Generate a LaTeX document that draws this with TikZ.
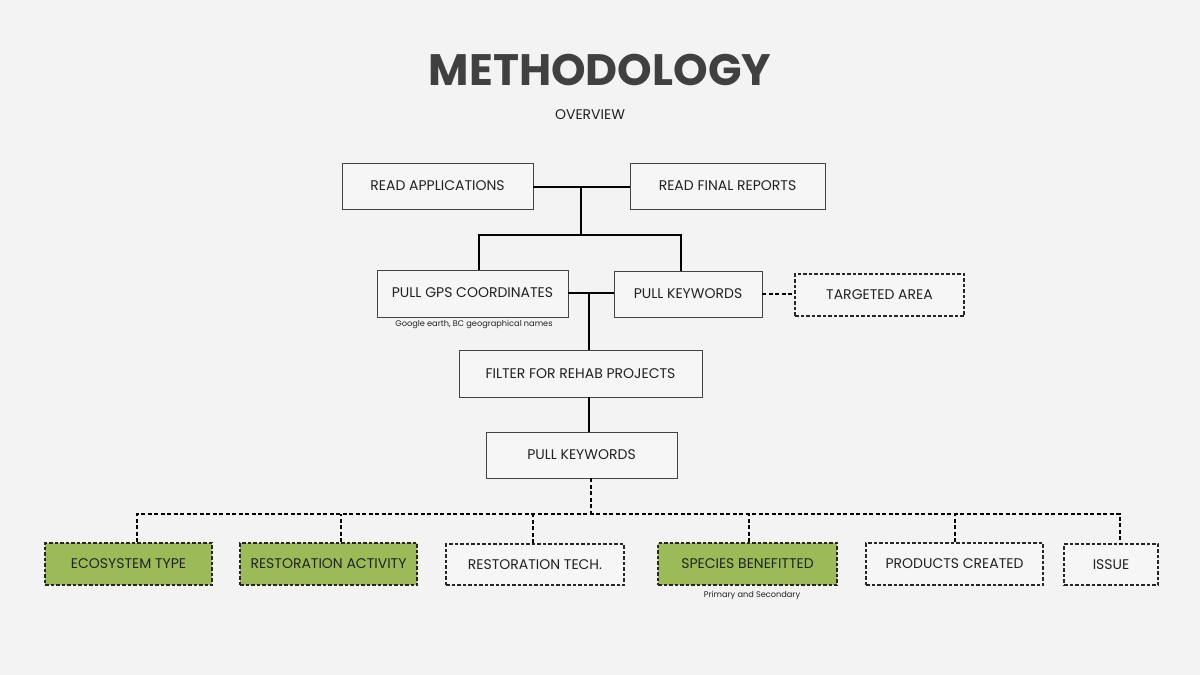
\documentclass[tikz,border=0pt]{standalone}
\usepackage{fontspec}
\setmainfont{Poppins}
\newfontfamily\titlefont{Poppins Bold}
\definecolor{bg}{HTML}{F3F3F3}
\definecolor{boxbg}{HTML}{F6F6F6}
\definecolor{boxgreen}{HTML}{9BBB59}
\definecolor{txt}{HTML}{222222}
\definecolor{bord}{HTML}{444444}
\definecolor{titlegray}{HTML}{404040}
\begin{document}
\begin{tikzpicture}[x=1pt,y=-1pt,
  box/.style={draw=bord,line width=0.9pt,fill=boxbg,text=txt,inner sep=0pt,font=\fontsize{14}{16}\selectfont},
  dbox/.style={box,dash pattern=on 3.5pt off 2pt,line width=1.2pt,draw=black!85},
  gbox/.style={dbox,fill=boxgreen},
  conn/.style={draw=black,line width=1.7pt},
  dconn/.style={draw=black,line width=1.8pt,dash pattern=on 4pt off 2.5pt},
  note/.style={font=\fontsize{8.2}{10}\selectfont,text=txt}]
\useasboundingbox (0,0) rectangle (1200,675);
\fill[bg] (0,0) rectangle (1200,675);
\node[font=\titlefont\fontsize{44}{52}\selectfont,text=titlegray] (title) at (600,70) {METHODOLOGY};
\node[font=\fontsize{14}{16}\selectfont,text=txt] (sub) at (590,115) {OVERVIEW};
% boxes
\node[box,minimum width=191pt,minimum height=46pt] (ra) at (437.5,186) {\raisebox{-1pt}{READ APPLICATIONS}};
\node[box,minimum width=195pt,minimum height=46pt] (rf) at (727.5,186) {\raisebox{1.5pt}{READ FINAL REPORTS}};
\node[box,minimum width=191pt,minimum height=47pt] (gps) at (472.5,293.5) {\raisebox{1pt}{PULL GPS COORDINATES}};
\node[note] (gpsn) at (474,324.5) {Google earth, BC geographical names};
\node[box,minimum width=148pt,minimum height=46pt] (pk) at (688,294) {PULL KEYWORDS};
\node[dbox,minimum width=169pt,minimum height=42pt] (ta) at (879.5,295) {\raisebox{1pt}{TARGETED AREA}};
\node[box,minimum width=243pt,minimum height=47pt] (fr) at (580.5,373.5) {FILTER FOR REHAB PROJECTS};
\node[box,minimum width=191pt,minimum height=46pt] (pk2) at (581.5,455) {\raisebox{-1pt}{PULL KEYWORDS}};
\node[gbox,minimum width=167pt,minimum height=42pt] (eco) at (128.5,564) {\raisebox{1.5pt}{ECOSYSTEM TYPE}};
\node[gbox,minimum width=177pt,minimum height=42pt] (ract) at (328.5,564) {RESTORATION ACTIVITY};
\node[dbox,minimum width=178pt,minimum height=41pt] (rt) at (535,564.5) {RESTORATION TECH.};
\node[gbox,minimum width=179pt,minimum height=42pt] (sb) at (747.5,564) {SPECIES BENEFITTED};
\node[note] (sbn) at (752,595) {Primary and Secondary};
\node[dbox,minimum width=177pt,minimum height=42pt] (pc) at (954.5,564) {PRODUCTS CREATED};
\node[dbox,minimum width=94pt,minimum height=41pt] (is) at (1111,564.5) {ISSUE};
% top connectors
\coordinate (j1) at (581,187);
\coordinate (j2) at (581,235);
\coordinate (j3) at (589,293);
\coordinate (j4) at (591,514);
\draw[conn] (ra.east |- j1) -- (rf.west |- j1);
\draw[conn] (j1) -- (j2);
\draw[conn] (gps.north -| 479,0) |- (j2) -| (pk.north -| 681,0);
\draw[conn] (gps.east |- j3) -- (pk.west |- j3);
\draw[conn] (j3) -- (fr.north -| j3);
\draw[conn] (fr.south -| j3) -- (pk2.north -| j3);
\draw[dconn] (pk.east |- 0,294) -- (ta.west |- 0,294);
% bottom dashed tree
\draw[dconn] (pk2.south -| j4) -- (j4);
\draw[dconn] (eco.north -| 137,0) |- (j4) -| (is.north -| 1120,0);
\draw[dconn] (ract.north -| 341,0) -- (341,514);
\draw[dconn] (rt.north -| 533,0) -- (533,514);
\draw[dconn] (sb.north -| 749,0) -- (749,514);
\draw[dconn] (pc.north -| 955,0) -- (955,514);
\end{tikzpicture}
\end{document}
